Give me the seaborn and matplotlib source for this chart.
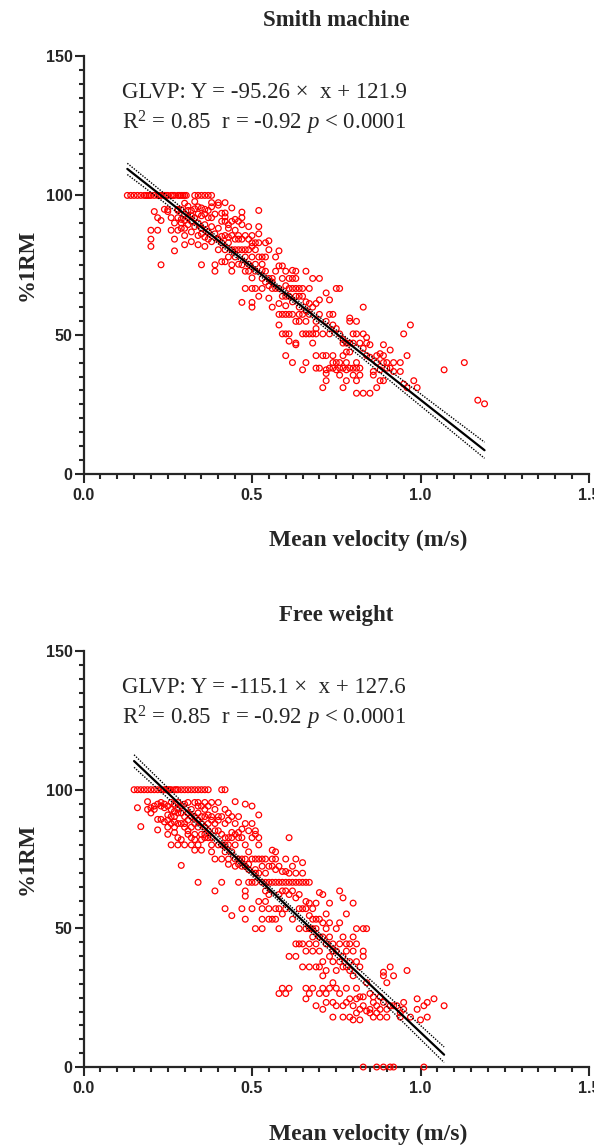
import numpy as np
import pandas as pd
import matplotlib
matplotlib.use("Agg")
import matplotlib.pyplot as plt
import seaborn as sns
from matplotlib.ticker import MultipleLocator, FormatStrFormatter

# ---------------- data ----------------
# Smith machine: points at 100 %1RM
sm_full_v = [0.13, 0.14, 0.15, 0.16, 0.17, 0.18, 0.185, 0.19, 0.195, 0.20, 0.21, 0.22,
             0.225, 0.23, 0.24, 0.245, 0.25, 0.26, 0.265, 0.27, 0.28, 0.285, 0.29,
             0.295, 0.30, 0.305, 0.33, 0.34, 0.35, 0.36, 0.37, 0.38]
# Smith machine: remaining points, grouped by velocity
sm_col_v = [0.20, 0.21, 0.22, 0.23, 0.24, 0.25, 0.26, 0.27, 0.28, 0.29, 0.30, 0.31, 0.32,
            0.33, 0.34, 0.35, 0.36, 0.37, 0.38, 0.39, 0.40, 0.41, 0.42, 0.43, 0.44, 0.45,
            0.46, 0.47, 0.48, 0.49, 0.50, 0.51, 0.52, 0.53, 0.54, 0.55, 0.56, 0.57, 0.58,
            0.59, 0.60, 0.61, 0.62, 0.63, 0.64, 0.65, 0.66, 0.67, 0.68, 0.69, 0.70, 0.71,
            0.72, 0.73, 0.74, 0.75, 0.76, 0.77, 0.78, 0.79, 0.80, 0.81, 0.82, 0.83, 0.84,
            0.85, 0.86, 0.87, 0.88, 0.89, 0.90, 0.91, 0.92, 0.94, 0.95, 0.96, 0.97, 0.98,
            0.99, 1.07, 1.13, 1.17, 1.19]
sm_col_p = [
    [87.5, 84.3, 81.7], [94.2], [92.0, 87.5], [91.0, 75.1], [95.0], [94.2, 94.9],
    [87.5, 92.0], [90.1, 84.3, 80.1], [95.0, 87.5, 92.0, 94.6], [94.9, 91.4, 90.1, 88.2],
    [97.2, 93.3, 88.2, 85.6, 82.3, 91.0], [96.1, 92.0, 89.5, 94.6],
    [94.6, 90.7, 86.9, 83.4, 92.7], [97.8, 95.2, 88.8, 92.0], [95.9, 93.3, 85.6, 82.3, 90.1],
    [95.5, 92.7, 88.2, 75.1, 86.2], [93.3, 89.5, 85.0, 81.7, 95.0], [94.6, 92.0, 86.9, 84.3],
    [97.4, 95.9, 92.0, 83.4, 88.8], [93.3, 75.1, 72.8, 86.2], [97.4, 96.5, 88.2, 80.5, 84.3],
    [93.6, 85.3, 83.0, 76.2, 90.7], [97.4, 93.7, 92.3, 90.7, 85.6, 80.5, 76.2],
    [89.5, 88.2, 83.0, 77.9, 85.0], [95.5, 90.7, 80.5, 75.1, 72.8, 85.6],
    [87.5, 84.3, 80.5, 77.9, 91.4], [90.7, 84.3, 80.5, 75.3, 85.6],
    [94.0, 92.0, 89.5, 84.3, 80.5, 75.1, 61.6], [85.6, 80.5, 72.8, 66.6, 77.9],
    [88.8, 84.3, 80.5, 75.3, 72.8], [85.6, 81.7, 77.9, 70.4, 66.6, 61.6, 59.9, 83.0],
    [83.0, 80.5, 75.3, 72.8, 66.6], [94.6, 88.8, 86.2, 83.0, 77.9, 63.8],
    [77.9, 75.3, 70.2, 66.6, 73.1], [83.0, 77.9, 72.8, 68.9], [83.7, 80.5, 70.2, 67.6, 63.1],
    [70.2, 66.6, 59.9, 68.9], [77.9, 72.8, 66.6], [80.1, 74.7, 66.6, 61.2, 57.3, 53.5],
    [74.7, 70.2, 63.8, 57.3, 50.3], [72.8, 67.6, 63.8, 60.4, 57.3, 50.3, 42.5],
    [70.2, 66.6, 63.8, 57.3, 50.3, 47.7], [73.1, 70.2, 66.6, 61.8, 57.3, 40.0],
    [72.8, 70.2, 66.6, 63.8, 54.8, 47.0, 46.4], [66.6, 63.8, 59.9, 57.3, 54.8],
    [66.6, 63.8, 57.3, 50.3, 37.4], [72.8, 61.8, 58.6, 54.8, 50.3, 40.0],
    [66.6, 61.2, 57.3, 50.3], [70.2, 59.9, 50.3, 47.0], [61.2, 54.8, 52.2, 50.3, 42.5, 38.0],
    [70.2, 62.5, 57.3, 38.0], [50.3, 42.5, 31.0], [65.0, 54.8, 42.5, 37.4, 36.1, 33.5],
    [62.5, 57.3, 50.3, 38.0], [57.3, 53.5, 42.5, 40.0, 38.0], [66.6, 52.2, 40.0, 37.4],
    [66.6, 50.3, 40.0, 38.0, 35.5], [48.3, 47.0, 42.5, 38.0, 31.0],
    [47.0, 43.8, 40.0, 37.4, 33.5], [56.0, 54.8, 47.0, 43.8, 38.0], [50.3, 47.0, 38.0, 35.5],
    [54.8, 50.3, 40.0, 38.0, 33.5, 29.0], [47.0, 38.0, 35.5], [59.9, 50.3, 45.1, 29.0],
    [49.0, 47.0, 42.5], [46.4, 41.9, 29.0], [36.8, 35.5], [42.5, 40.0, 31.0],
    [43.2, 37.4, 33.5], [46.4, 42.5, 40.0, 33.5], [40.0, 38.0], [44.5, 38.0], [40.0, 36.8],
    [40.0, 36.8], [50.3, 32.3], [42.5, 31.0], [53.5], [33.5], [31.0], [37.4], [40.0],
    [26.5], [25.2]]

# Free weight: points at 100 %1RM
fw_full_v = [0.15, 0.16, 0.17, 0.18, 0.19, 0.20, 0.21, 0.22, 0.23, 0.24, 0.245, 0.25,
             0.255, 0.26, 0.27, 0.275, 0.28, 0.29, 0.30, 0.31, 0.32, 0.33, 0.34, 0.35,
             0.36, 0.37, 0.41, 0.42]
fw_col_v = [0.16, 0.17, 0.19, 0.20, 0.21, 0.22, 0.23, 0.24, 0.25, 0.26, 0.27, 0.28, 0.29,
            0.30, 0.31, 0.32, 0.33, 0.34, 0.35, 0.36, 0.37, 0.38, 0.39, 0.40, 0.41, 0.42,
            0.43, 0.44, 0.45, 0.46, 0.47, 0.48, 0.49, 0.50, 0.51, 0.52, 0.53, 0.54, 0.55,
            0.56, 0.57, 0.58, 0.59, 0.60, 0.61, 0.62, 0.63, 0.64, 0.65, 0.66, 0.67, 0.68,
            0.69, 0.70, 0.71, 0.72, 0.73, 0.74, 0.75, 0.76, 0.77, 0.78, 0.79, 0.80, 0.81,
            0.82, 0.83, 0.84, 0.85, 0.86, 0.87, 0.88, 0.89, 0.90, 0.91, 0.92, 0.93, 0.94,
            0.95, 0.96, 0.97, 0.99, 1.00, 1.01, 1.02, 1.04, 1.07]
fw_col_p = [
    [93.5], [86.7], [95.7, 92.9], [91.6, 93.5], [92.9, 94.1], [94.8, 89.3, 85.5],
    [95.4, 94.1, 89.3], [94.8, 93.5, 88.4], [94.1, 90.9, 89.0, 86.5, 83.9],
    [95.4, 92.9, 90.3, 87.8, 80.1], [94.8, 92.2, 90.3, 88.4, 86.5, 84.6],
    [95.4, 92.9, 91.6, 87.8, 82.7, 80.1], [94.1, 91.6, 87.8, 82.0, 72.7],
    [94.8, 90.3, 87.8, 86.5, 80.1], [95.4, 91.6, 89.0, 83.9, 85.2],
    [92.9, 90.3, 86.5, 82.7, 80.1], [95.4, 90.3, 87.8, 83.9, 82.0, 78.2],
    [95.4, 94.1, 91.6, 89.0, 86.5, 80.1, 66.6], [94.1, 90.3, 87.8, 83.9, 82.0, 78.2],
    [95.4, 92.9, 90.3, 86.5, 83.9, 82.7], [94.1, 90.9, 87.8, 85.2, 82.7],
    [95.4, 90.3, 89.0, 82.7, 80.1, 77.6], [92.9, 87.8, 85.2, 75.0, 63.5],
    [95.4, 90.3, 89.0, 85.2, 80.1], [90.3, 83.9, 80.1, 75.0, 66.6],
    [92.9, 87.8, 82.7, 80.1, 77.6, 57.1], [91.6, 89.0, 82.7, 80.1, 75.0, 73.1],
    [90.3, 84.6, 82.7, 77.6, 54.6], [95.7, 87.8, 83.9, 80.1, 75.0, 72.4],
    [90.3, 84.6, 82.7, 75.0, 66.6, 73.1], [85.8, 82.7, 75.0, 72.4, 57.1],
    [94.8, 87.8, 80.1, 75.0, 72.4, 63.5, 61.6, 53.3], [85.2, 77.6, 73.1, 71.2, 66.6],
    [94.1, 87.8, 82.7, 75.0, 66.6, 57.1], [85.2, 83.9, 75.0, 71.2, 69.9, 66.6, 49.9],
    [90.9, 82.7, 80.1, 75.0, 69.9, 59.7], [75.0, 72.4, 66.6, 57.1, 53.3, 49.9],
    [75.0, 69.9, 66.6, 63.5, 59.7], [72.4, 66.6, 62.2, 57.1, 53.3],
    [78.2, 75.0, 72.4, 66.6, 53.3], [77.6, 75.0, 71.2, 66.6, 57.1, 53.3],
    [72.4, 66.6, 62.2, 57.1, 49.9, 26.5], [70.5, 66.6, 63.5, 55.2, 28.4],
    [75.0, 70.5, 66.6, 63.5, 57.1, 26.5], [82.7, 69.9, 66.6, 62.2, 39.9, 28.4],
    [72.4, 66.6, 63.5, 53.3], [75.0, 69.9, 66.6, 61.0, 44.4, 39.9],
    [66.6, 62.2, 57.1, 49.9, 44.4], [73.7, 69.9, 66.6, 57.1, 44.4, 36.1],
    [66.6, 59.7, 57.1, 49.9, 41.8, 28.4, 24.6], [66.6, 59.1, 54.6, 49.9, 44.4, 36.1, 26.5],
    [57.1, 53.3, 49.9, 46.9, 41.8, 28.4], [59.1, 53.3, 49.9, 44.4, 36.1, 22.1],
    [62.9, 53.3, 46.9, 41.8, 36.1, 26.5], [62.2, 52.0, 46.9, 38.0, 32.9, 28.4, 20.8],
    [55.2, 49.9, 44.4, 34.8, 26.5, 23.3], [59.1, 52.0, 46.9, 39.9, 28.4],
    [44.4, 41.8, 38.0, 30.4, 23.3, 18.0], [49.9, 41.8, 34.8, 28.4, 22.1],
    [63.5, 52.0, 44.4, 38.0, 26.5], [61.0, 46.9, 39.9, 36.1, 22.1, 18.0],
    [55.2, 44.4, 41.8, 36.1, 28.4, 23.3], [44.4, 38.0, 34.8, 24.6, 18.0],
    [59.1, 46.9, 41.8, 32.9, 22.1, 17.0], [49.9, 44.4, 38.0, 28.4, 24.6, 19.5],
    [36.1, 25.3, 20.8, 17.0], [49.9, 41.8, 39.9, 25.3, 22.1, 0.0], [49.9, 30.4, 20.2],
    [26.5, 20.8, 19.5], [25.3, 23.3, 18.0], [22.1, 19.5, 0.0], [25.3, 20.8, 18.0],
    [34.2, 32.9, 23.3, 0.0], [30.4, 20.8, 18.0], [36.1, 22.1, 0.0], [32.9, 22.1, 0.0],
    [22.1], [19.5, 18.0], [23.3, 20.8], [34.8], [18.0], [24.6, 20.8], [17.0], [22.1, 0.0],
    [23.3, 18.0], [24.6], [22.1]]

# Published fits
sm_slope, sm_intercept = -95.26, 121.9
fw_slope, fw_intercept = -115.1, 127.6
titles = ["Smith machine", "Free weight"]
eq_texts = ["GLVP: Y = -95.26 ×  x + 121.9", "GLVP: Y = -115.1 ×  x + 127.6"]
stat_texts = [r"R$^2$ = 0.85  r = -0.92 $p$ < $\mathit{0.0001}$",
              r"R$^2$ = 0.85  r = -0.92 $p$ < 0.0001"]


def build(full_v, col_v, col_p):
    v = list(full_v)
    p = [100.0] * len(full_v)
    for x, ps in zip(col_v, col_p):
        v += [x] * len(ps)
        p += list(ps)
    return pd.DataFrame({"v": v, "p": p})


sm_df = build(sm_full_v, sm_col_v, sm_col_p)
fw_df = build(fw_full_v, fw_col_v, fw_col_p)

# ---------------- style ----------------
sns.set_style("ticks")
plt.rcParams["font.family"] = ["Liberation Serif", "DejaVu Serif"]
plt.rcParams["mathtext.fontset"] = "custom"
plt.rcParams["mathtext.rm"] = "Liberation Serif"
plt.rcParams["mathtext.it"] = "Liberation Serif:italic"
plt.rcParams["mathtext.bf"] = "Liberation Serif:bold"

fig = plt.figure(figsize=(5.94, 11.45), dpi=100)
ax1 = fig.add_axes([0.1406, 0.586, 0.851, 0.365])
ax2 = fig.add_axes([0.1406, 0.0681, 0.851, 0.3633])


def panel(ax, df, slope, intercept, title, eq, stat, xlab_y):
    sns.scatterplot(data=df, x="v", y="p", ax=ax, marker="o", s=17,
                    facecolor="none", edgecolor="#ff0000", linewidth=0.9,
                    clip_on=False, zorder=3, legend=False)
    coll = ax.collections[-1]
    coll.set_facecolor("none")
    coll.set_edgecolor("#ff0000")

    xs = np.linspace(df.v.min(), df.v.max(), 200)
    yhat = slope * xs + intercept
    resid = df.p - (slope * df.v + intercept)
    n = len(df)
    s = np.sqrt((resid ** 2).sum() / (n - 2))
    sxx = ((df.v - df.v.mean()) ** 2).sum()
    se = s * np.sqrt(1.0 / n + (xs - df.v.mean()) ** 2 / sxx)
    sns.lineplot(x=xs, y=yhat, ax=ax, color="black", linewidth=1.6, zorder=5)
    ax.plot(xs, yhat + 1.96 * se, ls=(0, (1, 1)), color="black", lw=1.0, zorder=5)
    ax.plot(xs, yhat - 1.96 * se, ls=(0, (1, 1)), color="black", lw=1.0, zorder=5)

    ax.set_xlim(0, 1.5)
    ax.set_ylim(0, 150)
    ax.xaxis.set_major_locator(MultipleLocator(0.5))
    ax.xaxis.set_minor_locator(MultipleLocator(0.05))
    ax.yaxis.set_major_locator(MultipleLocator(50))
    ax.yaxis.set_minor_locator(MultipleLocator(5))
    ax.xaxis.set_major_formatter(FormatStrFormatter("%.1f"))
    ax.yaxis.set_major_formatter(FormatStrFormatter("%d"))
    sns.despine(ax=ax)
    for sp in ("left", "bottom"):
        ax.spines[sp].set_linewidth(1.6)
    ax.tick_params(which="major", length=6.5, width=1.5, direction="out")
    ax.tick_params(which="minor", length=3.6, width=1.5, direction="out")
    ax.tick_params(axis="x", which="major", pad=3.5)
    ax.tick_params(axis="y", which="major", pad=1.5)
    for lab in ax.get_xticklabels() + ax.get_yticklabels():
        lab.set_fontfamily("Liberation Sans")
        lab.set_fontweight("bold")
        lab.set_fontsize(11.5)

    ax.set_xlabel("Mean velocity (m/s)", fontsize=17, fontweight="bold", va="center")
    ax.xaxis.set_label_coords(0.563, xlab_y)
    ax.set_ylabel("%1RM", fontsize=16.5, fontweight="bold", va="center")
    ax.yaxis.set_label_coords(-0.112, 0.5)
    ax.text(0.5, 1.086, title, transform=ax.transAxes, ha="center", va="center",
            fontsize=16.5, fontweight="bold")
    ax.text(0.114, 137.0, eq, fontsize=16.5, ha="left", va="center")
    ax.text(0.114, 126.0, stat, fontsize=16.5, ha="left", va="center")


panel(ax1, sm_df, sm_slope, sm_intercept, titles[0], eq_texts[0], stat_texts[0], -0.158)
panel(ax2, fw_df, fw_slope, fw_intercept, titles[1], eq_texts[1], stat_texts[1], -0.163)

fig.savefig("out.png", dpi=100)
